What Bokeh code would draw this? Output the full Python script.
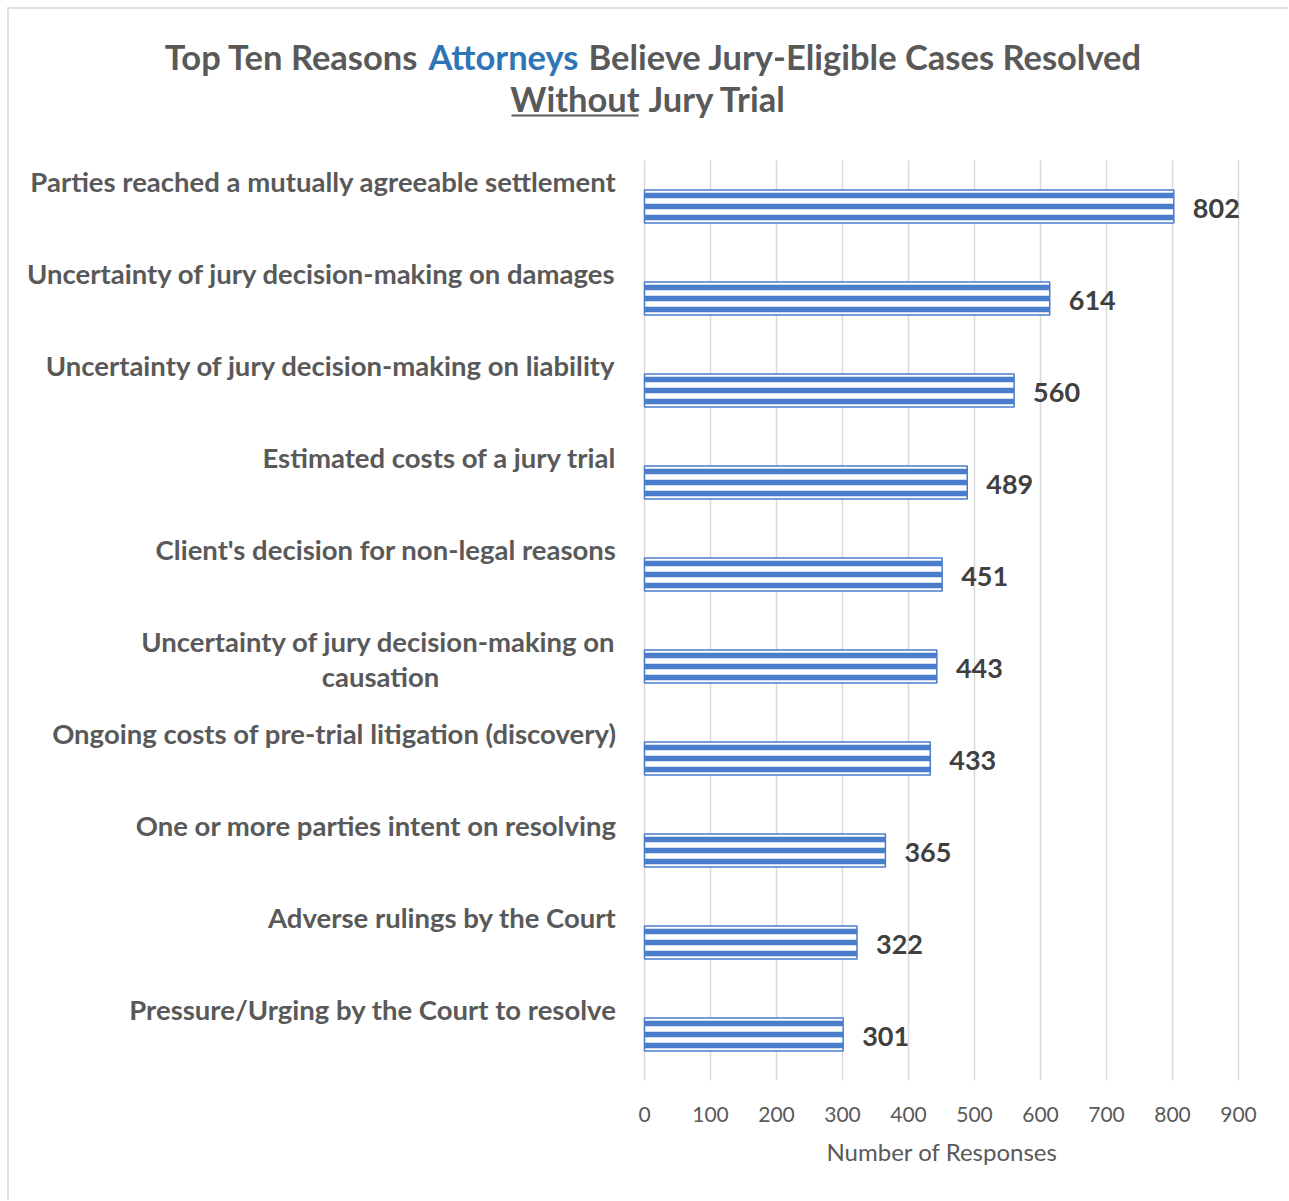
from bokeh.plotting import figure
from bokeh.layouts import column
from bokeh.models import Range1d, FixedTicker, ColumnDataSource, Grid, Title
from bokeh.core.properties import value
from bokeh.transform import dodge
from bokeh.embed import file_html
from bokeh.resources import INLINE

categories = [
    "Parties reached a mutually agreeable settlement",
    "Uncertainty of jury decision-making on damages",
    "Uncertainty of jury decision-making on liability",
    "Estimated costs of a jury trial",
    "Client's decision for non-legal reasons",
    "Uncertainty of jury decision-making on\ncausation",
    "Ongoing costs of pre-trial litigation (discovery)",
    "One or more parties intent on resolving",
    "Adverse rulings by the Court",
    "Pressure/Urging by the Court to resolve",
]
responses = [802, 614, 560, 489, 451, 443, 433, 365, 322, 301]
x_ticks = [0, 100, 200, 300, 400, 500, 600, 700, 800, 900]

FONT = "Lato"
GRAY = "#595959"
BLUE = "#4A7DCB"

OFF = 9                      # chart border sits at 7..9 px on the page
W, H = 1288 - OFF, 1200 - OFF

# layout geometry (page pixels)
ZERO_PX = 644
PX = 594 / 900
PLOT_TOP, ROW_PX = 160, 92.0
PLOT_BOTTOM = 1080

def dx(px):
    return (px - ZERO_PX) / PX

def dy(py):
    return -0.5 + (py - PLOT_TOP) / ROW_PX

p = figure(width=W, height=H, output_backend="svg", toolbar_location=None,
           x_range=Range1d(dx(OFF), dx(OFF + W)),
           y_range=Range1d(dy(PLOT_BOTTOM), dy(OFF)),
           y_axis_type=None, min_border_left=0, min_border_right=0,
           min_border_top=0, min_border_bottom=OFF + H - PLOT_BOTTOM)
p.outline_line_color = None

n = len(categories)
idx = list(range(n))
src = ColumnDataSource(dict(y=idx, v=responses, lab=[str(v) for v in responses]))

# grid lines only over the bar rows
p.xgrid.ticker = FixedTicker(ticks=x_ticks)
p.xgrid.grid_line_color = "#d9d9d9"
p.xgrid.grid_line_width = 1.5
if "cross_bounds" in Grid.properties():
    p.xgrid.cross_bounds = (-0.5, n - 0.5)
else:
    p.xgrid.grid_line_color = None
    p.segment(x0=x_ticks, x1=x_ticks, y0=[-0.5] * len(x_ticks), y1=[n - 0.5] * len(x_ticks),
              line_color="#d9d9d9", line_width=1.5)
p.ygrid.visible = False

# bars: white body with blue outline and three horizontal stripes
p.hbar(y="y", left=0, right="v", height=0.36, source=src, fill_color="white",
       line_color=BLUE, line_width=1.5)
for off in (-0.12, 0.0, 0.12):
    p.hbar(y=dodge("y", off), left=0, right="v", height=0.06, source=src,
           fill_color=BLUE, line_color=None)

# value labels
p.text(x="v", y=dodge("y", 0.02), text="lab", source=src, x_offset=19,
       text_baseline="middle", text_font=value(FONT), text_font_style="bold",
       text_font_size="27px", text_color="#404040")

# category labels (above the bar centre, right-aligned)
first = [c.split("\n")[0] for c in categories]
p.text(x=[dx(616)] * n, y=[i - 0.27 for i in idx], text=first, text_align="right",
       text_baseline="middle", text_font=value(FONT), text_font_style="bold",
       text_font_size="27.5px", text_color=GRAY)
for i, c in enumerate(categories):
    if "\n" in c:
        p.text(x=[dx(380)], y=[i + 0.11], text=[c.split("\n")[1]], text_align="center",
               text_baseline="middle", text_font=value(FONT), text_font_style="bold",
               text_font_size="27.5px", text_color=GRAY)

# x axis
p.xaxis.ticker = FixedTicker(ticks=x_ticks)
p.xaxis.axis_line_color = None
p.xaxis.major_tick_line_color = None
p.xaxis.minor_tick_line_color = None
p.xaxis.major_label_text_font = FONT
p.xaxis.major_label_text_font_size = "21px"
p.xaxis.major_label_text_color = GRAY
p.xaxis.major_label_standoff = 20

# axis title, centred under the 0..900 scale
p.add_layout(Title(text="Number of Responses", align="left", offset=826 - OFF,
                   text_font=FONT, text_font_style="normal", text_font_size="24px",
                   text_color=GRAY, standoff=21), "below")

# chart title (two lines, one word coloured, one word underlined)
tkw = dict(text_baseline="middle", text_font=value(FONT), text_font_style="bold",
           text_font_size="34.5px")
p.text(x=[dx(418)], y=[dy(56)], text=["Top Ten Reasons"], text_align="right",
       text_color=GRAY, **tkw)
p.text(x=[dx(503)], y=[dy(56)], text=["Attorneys"], text_align="center",
       text_color="#2E75B6", **tkw)
p.text(x=[dx(588)], y=[dy(56)], text=["Believe Jury-Eligible Cases Resolved"],
       text_align="left", text_color=GRAY, **tkw)
p.text(x=[dx(574.5)], y=[dy(98)], text=["Without"], text_align="center",
       text_color=GRAY, **tkw)
p.text(x=[dx(648)], y=[dy(98)], text=["Jury Trial"], text_align="left",
       text_color=GRAY, **tkw)
p.segment(x0=[dx(511)], x1=[dx(638)], y0=[dy(115)], y1=[dy(115)],
          line_color=GRAY, line_width=2)

page = column(p, spacing=0)
page.styles = {"margin-left": "7px", "margin-top": "7px",
               "border-left": "2px solid #e0e0e0", "border-top": "2px solid #e0e0e0"}

open("out.html", "w").write(file_html(page, INLINE))
